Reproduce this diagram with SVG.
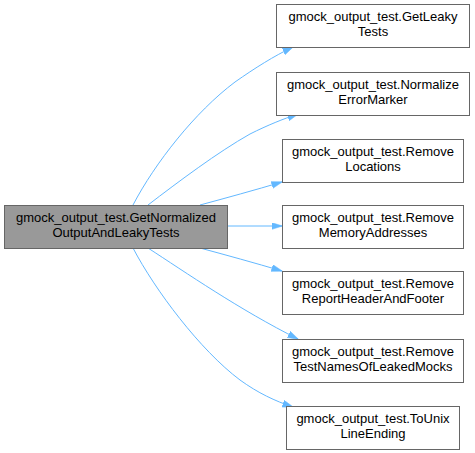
<svg xmlns="http://www.w3.org/2000/svg" width="475" height="453" viewBox="0 0 475 453">
<style>
.n rect{fill:#fff;stroke:#666;stroke-width:1}
.m rect{fill:#999;stroke:#666;stroke-width:1}
text{font-family:"Liberation Sans",Arial,sans-serif;font-size:13px;fill:#000;text-anchor:middle}
.e path{fill:none;stroke:#63b8ff;stroke-width:1;marker-end:url(#ah)}
</style>
<defs>
<marker id="ah" markerUnits="userSpaceOnUse" markerWidth="11" markerHeight="8" refX="10.5" refY="3.5" orient="auto">
<path d="M0,0 L11,3.5 L0,7 z" fill="#63b8ff" stroke="#63b8ff" stroke-width="0.5"/>
</marker>
</defs>
<rect width="475" height="453" fill="#fff"/>
<g class="e" id="edges">
<path d="M133,205 C155,163 195,112 235,82 C255,68 274,56 293,47"/>
<path d="M148,205 C178,182 218,152 250,134 C268,125 283,119 298,114"/>
<path d="M200,205 C226,198 255,190 282,182"/>
<path d="M228,226 L282,226"/>
<path d="M200,248 C226,255 255,263 282,271"/>
<path d="M148,248 C185,272 240,310 298,339"/>
<path d="M133,248 C155,290 200,350 240,380 C258,393 275,401 293,407"/>
</g>
<g class="m" id="main"><rect x="4.5" y="205.5" width="223" height="43"/><text x="116" y="222">gmock_output_test.GetNormalized</text><text x="116" y="237">OutputAndLeakyTests</text></g>
<g class="n" id="n1"><rect x="276.5" y="4.5" width="193" height="43"/><text x="373" y="21">gmock_output_test.GetLeaky</text><text x="373" y="36">Tests</text></g>
<g class="n" id="n2"><rect x="276.5" y="72.5" width="193" height="43"/><text x="373" y="89">gmock_output_test.Normalize</text><text x="373" y="104">ErrorMarker</text></g>
<g class="n" id="n3"><rect x="282.5" y="139.5" width="181" height="43"/><text x="373" y="156">gmock_output_test.Remove</text><text x="373" y="171">Locations</text></g>
<g class="n" id="n4"><rect x="282.5" y="205.5" width="181" height="43"/><text x="373" y="222">gmock_output_test.Remove</text><text x="373" y="237">MemoryAddresses</text></g>
<g class="n" id="n5"><rect x="282.5" y="271.5" width="181" height="43"/><text x="373" y="288">gmock_output_test.Remove</text><text x="373" y="303">ReportHeaderAndFooter</text></g>
<g class="n" id="n6"><rect x="282.5" y="339.5" width="181" height="43"/><text x="373" y="356">gmock_output_test.Remove</text><text x="373" y="371">TestNamesOfLeakedMocks</text></g>
<g class="n" id="n7"><rect x="286.5" y="406.5" width="173" height="43"/><text x="373" y="423">gmock_output_test.ToUnix</text><text x="373" y="438">LineEnding</text></g>
</svg>
